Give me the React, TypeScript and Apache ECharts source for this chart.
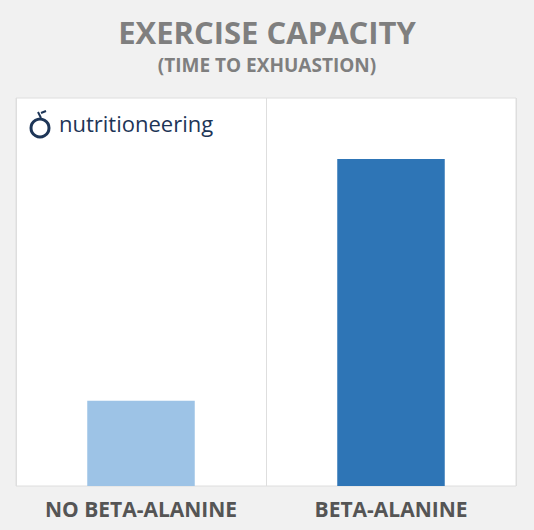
import React, { useEffect, useRef } from 'react';
import * as echarts from 'echarts';

// dados do gráfico
const categories = ['NO BETA-ALANINE', 'BETA-ALANINE'];
const values = [22, 84.3];
const barColors = ['#9dc3e6', '#2e75b6'];

const App: React.FC = () => {
  const chartRef = useRef<HTMLDivElement | null>(null);

  useEffect(() => {
    if (!chartRef.current) return;
    const chart = echarts.init(chartRef.current, undefined, { renderer: 'svg' });

    const option = {
      animation: false,
      backgroundColor: '#f1f1f1',
      textStyle: { fontFamily: 'Open Sans' },
      title: {
        text: 'EXERCISE CAPACITY',
        subtext: '(TIME TO EXHUASTION)',
        left: 'center',
        top: 11,
        itemGap: 8,
        textStyle: { fontSize: 31, fontWeight: 'bold', color: '#7f7f7f', fontFamily: 'Open Sans' },
        subtextStyle: { fontSize: 19, fontWeight: 'bold', color: '#7f7f7f', fontFamily: 'Open Sans' },
      },
      grid: {
        left: 16,
        right: 18,
        top: 98,
        bottom: 44,
        show: true,
        backgroundColor: '#ffffff',
        borderColor: '#dedede',
        borderWidth: 1,
      },
      xAxis: {
        type: 'category',
        data: categories,
        axisLine: { show: false },
        axisTick: { show: false },
        splitLine: { show: true, lineStyle: { color: '#dedede', width: 1 } },
        axisLabel: {
          margin: 12,
          fontSize: 21,
          fontWeight: 'bold',
          color: '#555555',
          fontFamily: 'Open Sans',
        },
      },
      yAxis: {
        type: 'value',
        min: 0,
        max: 100,
        show: false,
        splitLine: { show: false },
      },
      series: [
        {
          type: 'bar',
          barWidth: '43%',
          data: values.map((v, i) => ({ value: v, itemStyle: { color: barColors[i] } })),
        },
      ],
      graphic: [
        {
          type: 'circle',
          shape: { cx: 40, cy: 128, r: 9 },
          style: { fill: 'none', stroke: '#1d3557', lineWidth: 3 },
        },
        {
          type: 'line',
          shape: { x1: 38, y1: 112, x2: 41, y2: 118 },
          style: { stroke: '#1d3557', lineWidth: 2 },
        },
        {
          type: 'line',
          shape: { x1: 41, y1: 113, x2: 46, y2: 111 },
          style: { stroke: '#1d3557', lineWidth: 2 },
        },
        {
          type: 'text',
          left: 59,
          top: 112,
          style: {
            text: 'nutritioneering',
            fontSize: 22,
            fontWeight: 500,
            fontFamily: 'Open Sans',
            fill: '#1d3557',
          },
        },
      ],
    };

    chart.setOption(option);
    return () => {
      chart.dispose();
    };
  }, []);

  return (
    <div
      ref={chartRef}
      style={{ position: 'fixed', top: 0, left: 0, width: '534px', height: '530px', margin: 0 }}
    />
  );
};

export default App;
